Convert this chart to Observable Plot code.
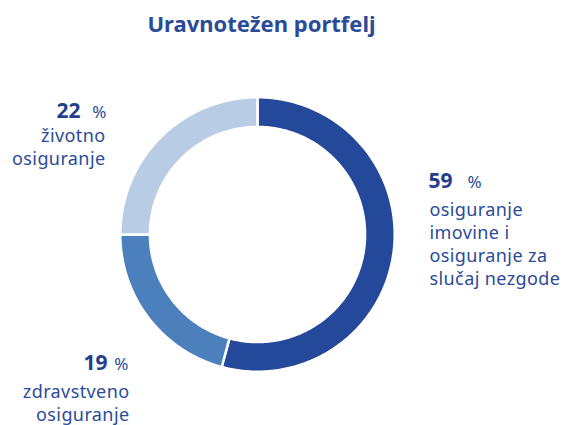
<!DOCTYPE html>
<html><head><meta charset="utf-8">
<script src="https://cdn.jsdelivr.net/npm/d3@7"></script>
<script src="https://cdn.jsdelivr.net/npm/@observablehq/plot@0.6"></script>
<style>body{margin:0;background:#fff}</style>
</head><body><div id="chart"></div>
<script>
// ---- data ----
const titleText = "Uravnotežen portfelj";
const categories = [
  "osiguranje\nimovine i\nosiguranje za\nslučaj nezgode",
  "zdravstveno\nosiguranje",
  "životno\nosiguranje"
];
const percentLabels = [59, 19, 22];          // printed values
const arcShares = [54.2, 20.8, 25.0];        // shares as actually drawn by the arcs
const colors = ["#24489a", "#4b80bd", "#b8cde5"];

// ---- layout ----
const W = 563, H = 425;
const cx = 257, cy = 234, R = 136;
const innerRatio = 0.80;
const textColor = "#2a4b98";
const numColor = "#233f8c";
const font = "'Noto Sans', 'Open Sans', sans-serif";

// pixel -> data-space helpers for annotation placement
const dx = p => (p - cx) / R;
const dy = p => (cy - p) / R;

const labelLayout = [
  {anchor: "start", numX: 428, pctX: 467, numY: 187, textX: 429, textY: 284},
  {anchor: "end",   numX: 107, pctX: 128, numY: 369, textX: 129, textY: 420},
  {anchor: "end",   numX: 80,  pctX: 106, numY: 117, textX: 105, textY: 164}
];

const slices = categories.map((c, i) => ({category: c, pct: percentLabels[i], share: arcShares[i], color: colors[i], i}));
const arcs = d3.pie().sort(null).value(d => d.share).startAngle(0).endAngle(2 * Math.PI)(slices);

// polygon vertices for each donut slice (unit radius data space)
const pts = [];
const rOut = 1.009, rIn = innerRatio - 0.009;
for (const a of arcs) {
  const n = Math.max(8, Math.ceil((a.endAngle - a.startAngle) / (Math.PI / 180)));
  for (let k = 0; k <= n; k++) {
    const t = a.startAngle + (a.endAngle - a.startAngle) * k / n;
    pts.push({slice: a.data.i, color: a.data.color, x: rOut * Math.sin(t), y: rOut * Math.cos(t)});
  }
  for (let k = n; k >= 0; k--) {
    const t = a.startAngle + (a.endAngle - a.startAngle) * k / n;
    pts.push({slice: a.data.i, color: a.data.color, x: rIn * Math.sin(t), y: rIn * Math.cos(t)});
  }
}

const labels = slices.map((s, i) => ({...s, ...labelLayout[i]}));

function labelMarks(anchor) {
  const L = labels.filter(d => d.anchor === anchor);
  return [
    Plot.text(L, {x: d => dx(d.numX), y: d => dy(d.numY), text: d => String(d.pct), textAnchor: anchor,
      lineAnchor: "bottom", fontSize: 21, fontWeight: "bold", fill: numColor}),
    Plot.text(L, {x: d => dx(d.pctX), y: d => dy(d.numY), text: () => "%", textAnchor: anchor,
      lineAnchor: "bottom", fontSize: 17, fill: textColor}),
    Plot.text(L, {x: d => dx(d.textX), y: d => dy(d.textY), text: "category", textAnchor: anchor,
      lineAnchor: "bottom", lineHeight: 1.27, fontSize: 18, fill: textColor})
  ];
}

const chart = Plot.plot({
  width: W, height: H,
  margin: 0,
  x: {domain: [-1, 1], range: [cx - R, cx + R], axis: null},
  y: {domain: [-1, 1], range: [cy + R, cy - R], axis: null},
  style: {fontFamily: font, background: "#fff"},
  marks: [
    Plot.line(pts, {x: "x", y: "y", z: "slice", fill: "color", stroke: "#fff", strokeWidth: 2.5, curve: "linear-closed"}),
    Plot.text([titleText], {x: () => dx(261), y: () => dy(31), text: d => d, lineAnchor: "bottom",
      fontSize: 22, fontWeight: "bold", fill: textColor}),
    ...labelMarks("start"),
    ...labelMarks("end")
  ]
});
// slightly wider tracking on the multi-line category labels, as in the reference
d3.select(chart).selectAll("text").filter(function () { return this.querySelector("tspan"); })
  .style("letter-spacing", "0.4px");
document.getElementById("chart").append(chart);
</script>
</body></html>
